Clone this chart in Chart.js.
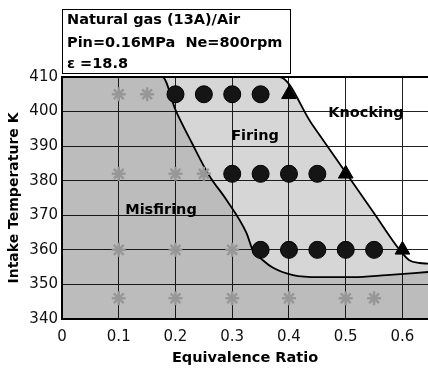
<!DOCTYPE html>
<html>
<head>
<meta charset="utf-8">
<script src="https://cdn.jsdelivr.net/npm/chart.js@4/dist/chart.umd.min.js"></script>
<style>
  html, body { margin: 0; padding: 0; background: #fff; }
</style>
</head>
<body>
<canvas id="chart" width="428" height="369"></canvas>
<script>
// axis ticks
const xTicks = [0, 0.1, 0.2, 0.3, 0.4, 0.5, 0.6]
const yTicks = [340, 350, 360, 370, 380, 390, 400, 410]

// misfiring points (gray stars)
const misfireX = [0.1, 0.15, 0.1, 0.2, 0.25, 0.1, 0.2, 0.3, 0.1, 0.2, 0.3, 0.4, 0.5, 0.55]
const misfireY = [405, 405, 382, 382, 382, 360, 360, 360, 346, 346, 346, 346, 346, 346]

// firing points (black circles)
const fireX = [0.2, 0.25, 0.3, 0.35, 0.3, 0.35, 0.4, 0.45, 0.35, 0.4, 0.45, 0.5, 0.55]
const fireY = [405, 405, 405, 405, 382, 382, 382, 382, 360, 360, 360, 360, 360]

// knocking points (black triangles)
const knockX = [0.4, 0.5, 0.6]
const knockY = [405, 382, 360]

// misfiring / firing boundary (first point closes the region along the top edge)
const misLineX = [0, 0.177, 0.2, 0.229, 0.259, 0.29, 0.325, 0.336, 0.354, 0.372, 0.407, 0.454, 0.513, 0.572, 0.645]
const misLineY = [410, 410, 400.5, 390.9, 381.6, 374.4, 364.9, 360, 357, 354.8, 352.7, 352.1, 352.1, 352.7, 353.6]

// firing / knocking boundary
const knockLineX = [0, 0.383, 0.44, 0.5, 0.55, 0.595, 0.612, 0.63, 0.645]
const knockLineY = [410, 410, 396.5, 382.4, 370.6, 360, 357, 356.2, 356]

const pts = (xs, ys) => xs.map((x, i) => ({ x, y: ys[i] }))

const FONT = 'DejaVu Sans'

const textPlugin = {
    id: 'texts',
    afterDraw(chart) {
        const ctx = chart.ctx
        ctx.save()
        // condition box
        ctx.fillStyle = '#fff'
        ctx.fillRect(62, 9, 228, 64)
        ctx.strokeStyle = '#000'
        ctx.lineWidth = 1
        ctx.strokeRect(62.5, 9.5, 228, 64)
        ctx.fillStyle = '#000'
        ctx.font = 'bold 14.5px "' + FONT + '"'
        ctx.textBaseline = 'alphabetic'
        ctx.textAlign = 'left'
        ctx.fillText('Natural gas (13A)/Air', 67, 24)
        ctx.fillText('Pin=0.16MPa  Ne=800rpm', 67, 47)
        ctx.fillText('\u03b5 =18.8', 67, 68)

        // region labels
        ctx.textAlign = 'center'
        ctx.textBaseline = 'middle'
        ctx.fillText('Knocking', 366, 113)
        ctx.fillText('Firing', 255, 136)
        ctx.fillText('Misfiring', 161, 210)
        ctx.restore()
    }
}

new Chart('chart', {
    type: 'scatter',
    data: {
        datasets: [
            {
                data: pts(fireX, fireY),
                pointStyle: 'circle', pointRadius: 8.5,
                backgroundColor: '#151515', borderColor: '#000', borderWidth: 1,
                order: 0
            },
            {
                data: pts(knockX, knockY),
                pointStyle: 'triangle', pointRadius: 8.5,
                backgroundColor: '#000', borderColor: '#000', borderWidth: 1,
                order: 0
            },
            {
                data: pts(misfireX, misfireY),
                pointStyle: 'star', pointRadius: 7,
                backgroundColor: 'rgba(0,0,0,0)', borderColor: '#979797', borderWidth: 2.5,
                order: 1
            },
            {
                data: pts(misLineX, misLineY),
                showLine: true, pointRadius: 0,
                borderColor: '#000', borderWidth: 1.8,
                cubicInterpolationMode: 'monotone',
                fill: 'start', backgroundColor: 'rgba(0,0,0,0.12)',
                order: 5
            },
            {
                data: pts(knockLineX, knockLineY),
                showLine: true, pointRadius: 0,
                borderColor: '#000', borderWidth: 1.8,
                cubicInterpolationMode: 'monotone',
                fill: 'start', backgroundColor: 'rgba(0,0,0,0.16)',
                order: 6
            }
        ]
    },
    options: {
        responsive: false,
        animation: false,
        layout: { autoPadding: false, padding: { top: 77, right: 0, bottom: 0, left: 0 } },
        plugins: {
            legend: { display: false },
            tooltip: { enabled: false }
        },
        scales: {
            x: {
                type: 'linear', min: 0, max: 0.645,
                afterBuildTicks: s => { s.ticks = xTicks.map(v => ({ value: v })) },
                afterFit: s => { s.height = 50; s.paddingLeft = 0; s.paddingRight = 0 },
                grid: { color: '#222', lineWidth: 1, drawTicks: false },
                border: { color: '#000', width: 2 },
                ticks: {
                    color: '#111', padding: 9,
                    font: { family: FONT, size: 15 },
                    callback: v => String(v)
                },
                title: {
                    display: true, text: 'Equivalence Ratio', color: '#000',
                    font: { family: FONT, size: 14.5, weight: 'bold' },
                    padding: { top: 0, bottom: 2 }
                }
            },
            y: {
                type: 'linear', min: 340, max: 410,
                afterBuildTicks: s => { s.ticks = yTicks.map(v => ({ value: v })) },
                afterFit: s => { s.width = 62 },
                grid: {
                    color: ctx => ctx.tick && ctx.tick.value === 410 ? '#000' : '#222',
                    lineWidth: ctx => ctx.tick && ctx.tick.value === 410 ? 2 : 1,
                    drawTicks: false
                },
                border: { color: '#000', width: 2 },
                ticks: {
                    color: '#111', padding: 4,
                    font: { family: FONT, size: 15 }
                },
                title: {
                    display: true, text: 'Intake Temperature K', color: '#000',
                    font: { family: FONT, size: 14, weight: 'bold' },
                    padding: { top: 6, bottom: 0 }
                }
            }
        }
    },
    plugins: [textPlugin]
})
</script>
</body>
</html>
